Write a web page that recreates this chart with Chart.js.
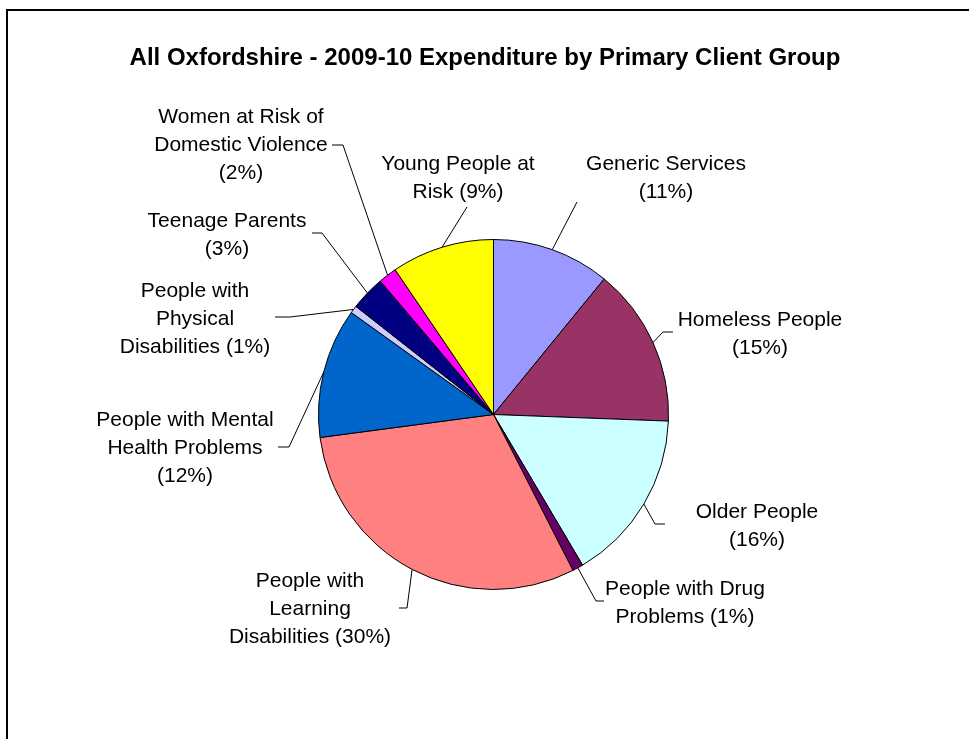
<!DOCTYPE html>
<html>
<head>
<meta charset="utf-8">
<script src="https://cdn.jsdelivr.net/npm/chart.js@4/dist/chart.umd.min.js"></script>
<style>
html,body{margin:0;padding:0;background:#fff;overflow:hidden;}
canvas{display:block;}
</style>
</head>
<body>
<canvas id="c" width="969" height="739"></canvas>
<script>
// ---- data ----
const chartTitle = "All Oxfordshire - 2009-10 Expenditure by Primary Client Group";
const categories = [
  "Generic Services",
  "Homeless People",
  "Older People",
  "People with Drug Problems",
  "People with Learning Disabilities",
  "People with Mental Health Problems",
  "People with Physical Disabilities",
  "Teenage Parents",
  "Women at Risk of Domestic Violence",
  "Young People at Risk"
];
const shares = [10.9, 14.7, 15.9, 1.0, 30.4, 12.0, 0.7, 3.2, 1.7, 9.5];
// label line breaks ({p} = percentage)
const labelLines = [
  ["Generic Services", "({p})"],
  ["Homeless People", "({p})"],
  ["Older People", "({p})"],
  ["People with Drug", "Problems ({p})"],
  ["People with", "Learning", "Disabilities ({p})"],
  ["People with Mental", "Health Problems", "({p})"],
  ["People with", "Physical", "Disabilities ({p})"],
  ["Teenage Parents", "({p})"],
  ["Women at Risk of", "Domestic Violence", "({p})"],
  ["Young People at", "Risk ({p})"]
];
const sliceColors = ["#9999FF","#993366","#CCFFFF","#660066","#FF8080","#0066CC","#CCCCFF","#000080","#FF00FF","#FFFF00"];

// ---- layout (label block centre, leader elbow & end) ----
const labelLayout = [
  {x:666, y:178, elbow:[577,202], end:[577,202]},
  {x:760, y:334, elbow:[663,332], end:[673,332]},
  {x:757, y:526, elbow:[655,524], end:[665,524]},
  {x:685, y:603, elbow:[596,601], end:[604,601]},
  {x:310, y:609, elbow:[407,608], end:[399,608]},
  {x:185, y:448, elbow:[289,447], end:[278,447]},
  {x:195, y:319, elbow:[290,317], end:[275,317]},
  {x:227, y:235, elbow:[322,233], end:[312,233]},
  {x:241, y:145, elbow:[343,145], end:[332,145]},
  {x:458, y:178, elbow:[467,207], end:[467,207]}
];
const FONT = '"Liberation Sans", Arial, sans-serif';
const LABEL_SIZE = 21, LINE_H = 28;

const total = shares.reduce((a,b)=>a+b,0);

const decor = {
  id:'decor',
  beforeDraw(chart){
    const ctx = chart.ctx;
    ctx.save();
    ctx.fillStyle = '#fff';
    ctx.fillRect(0,0,chart.width,chart.height);
    ctx.strokeStyle = '#000';
    ctx.lineWidth = 2;
    ctx.strokeRect(7,10,chart.width+20,chart.height+20);
    ctx.restore();
  },
  afterDraw(chart){
    const ctx = chart.ctx;
    const arcs = chart.getDatasetMeta(0).data;
    ctx.save();
    // title
    ctx.fillStyle = '#000';
    ctx.font = 'bold 24px ' + FONT;
    ctx.textAlign = 'center';
    ctx.textBaseline = 'middle';
    ctx.fillText(chartTitle, 485, 58);
    // labels
    ctx.font = LABEL_SIZE + 'px ' + FONT;
    ctx.strokeStyle = '#000';
    ctx.lineWidth = 1;
    arcs.forEach((arc, i) => {
      const p = Math.round(shares[i] / total * 100) + '%';
      const lines = labelLines[i].map(s => s.replace('{p}', p));
      const L = labelLayout[i];
      const n = lines.length;
      lines.forEach((s, k) => {
        ctx.fillText(s, L.x, L.y + (k - (n-1)/2) * LINE_H);
      });
      const mid = (arc.startAngle + arc.endAngle) / 2;
      const ax = arc.x + arc.outerRadius * Math.cos(mid);
      const ay = arc.y + arc.outerRadius * Math.sin(mid);
      ctx.beginPath();
      ctx.moveTo(ax, ay);
      ctx.lineTo(L.elbow[0], L.elbow[1]);
      ctx.lineTo(L.end[0], L.end[1]);
      ctx.stroke();
    });
    ctx.restore();
  }
};

new Chart(document.getElementById('c'), {
  type: 'pie',
  data: {
    labels: categories,
    datasets: [{
      data: shares,
      backgroundColor: sliceColors,
      borderColor: '#000',
      borderWidth: 1
    }]
  },
  options: {
    responsive: false,
    animation: false,
    layout: { padding: { left: 318, right: 300, top: 239, bottom: 149 } },
    plugins: { legend: { display: false }, tooltip: { enabled: false }, title: { display: false } }
  },
  plugins: [decor]
});
</script>
</body>
</html>
